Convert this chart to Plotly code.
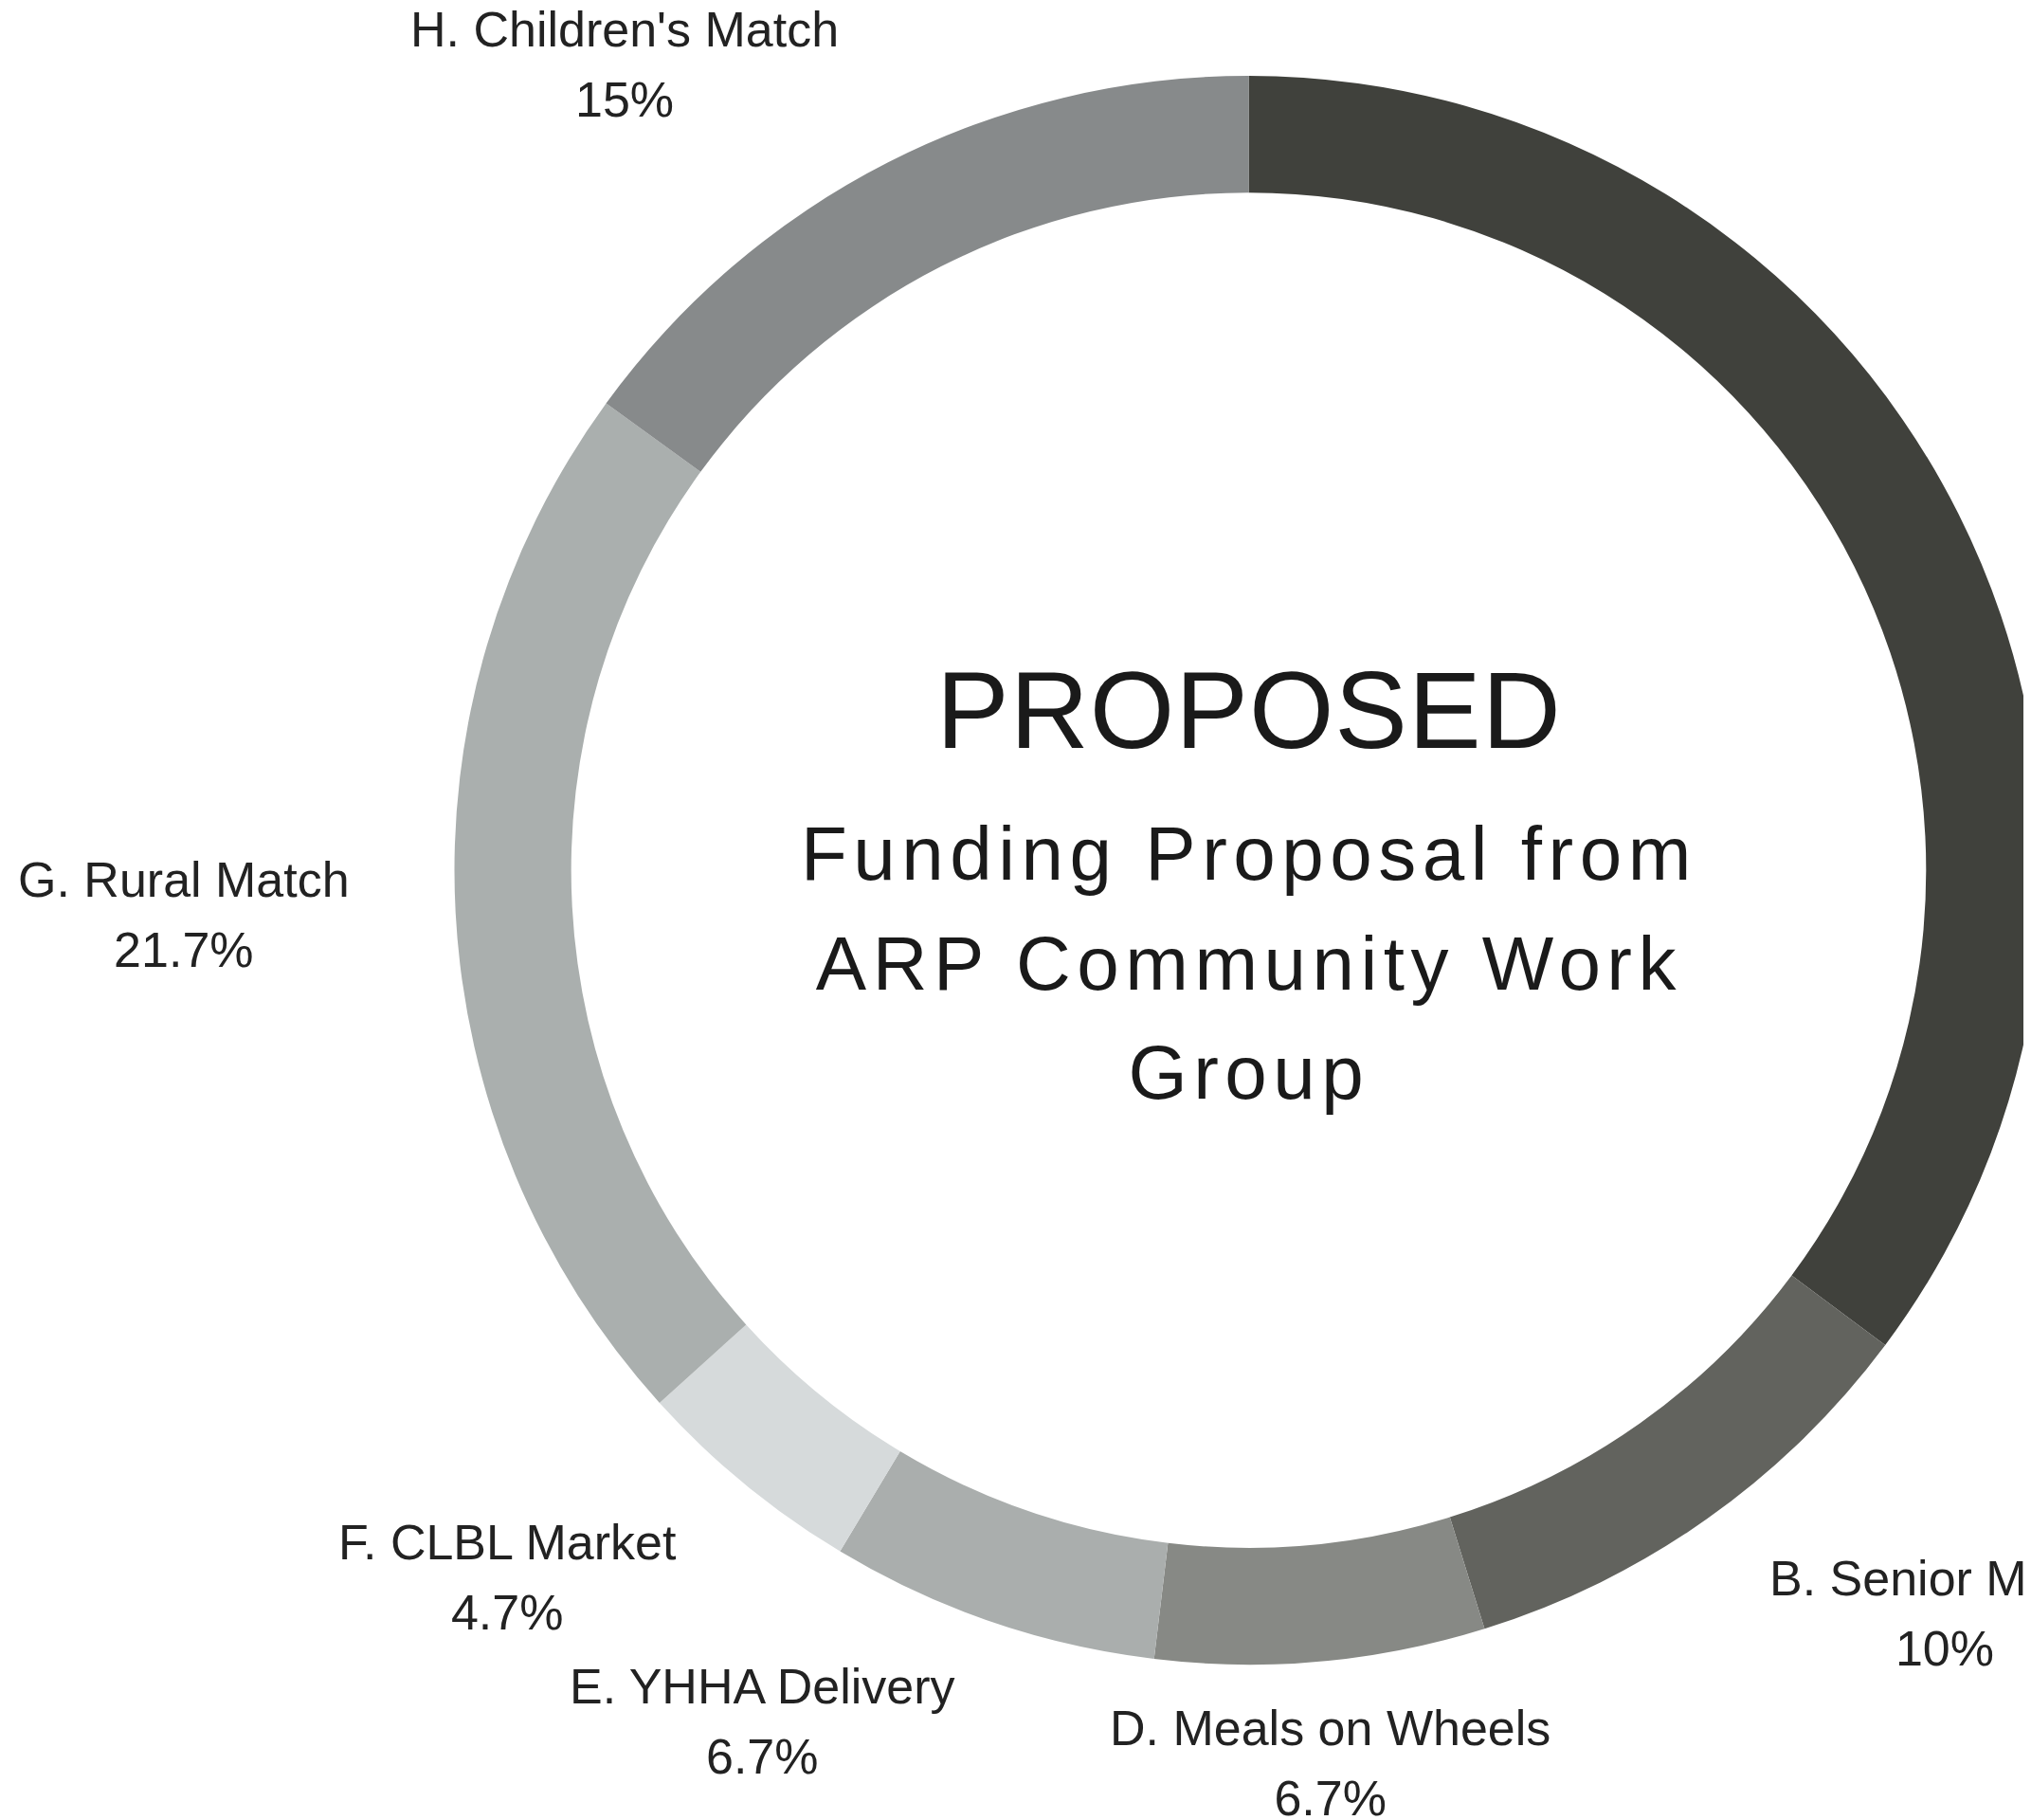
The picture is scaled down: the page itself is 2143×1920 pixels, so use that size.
import math

import plotly.graph_objects as go

# slice data (clockwise from 12 o'clock); slice A's label lies off the page
labels = [
    "A",
    "B. Senior Match",
    "D. Meals on Wheels",
    "E. YHHA Delivery",
    "F. CLBL Market",
    "G. Rural Match",
    "H. Children's Match",
]
values = [35.2, 10.0, 6.7, 6.7, 4.7, 21.7, 15.0]
show_label = [False, True, True, True, True, True, True]
colors = ["#40413c", "#62635e", "#878985", "#aaaead", "#d6dadb", "#aaafae", "#878a8b"]

title_main = "PROPOSED"
title_sub = ["Funding Proposal from", "ARP Community Work", "Group"]

FONT = "Liberation Sans, Arial, sans-serif"

# ---------------------------------------------------------------------------
# Page geometry
# ---------------------------------------------------------------------------
W, H = 2619, 1920
M_TOP, M_BOT = 72, 172
plot_h = H - M_TOP - M_BOT
radius = plot_h / 2
label_rx = radius * 1.131   # labels sit a little further out at the sides
label_ry = radius * 1.047

fig = go.Figure(go.Pie(
    labels=labels,
    values=values,
    hole=0.853,
    sort=False,
    direction="clockwise",
    rotation=0,
    marker=dict(colors=colors, line=dict(width=0)),
    textinfo="none",
    showlegend=False,
))

# ---------------------------------------------------------------------------
# Slice labels: placed just outside the ring at each slice's mid angle
# ---------------------------------------------------------------------------
total = sum(values)
cum = 0.0
for lab, val, show in zip(labels, values, show_label):
    mid = (cum + val / 2) / total * 2 * math.pi
    cum += val
    if not show:
        continue
    ux, uy = math.sin(mid), math.cos(mid)  # uy points up
    xa = "left" if ux > 0.3 else ("right" if ux < -0.3 else "center")
    ya = "bottom" if uy > 0.3 else ("top" if uy < -0.3 else "middle")
    pct = f"{val / total * 100:.3g}%"
    fig.add_annotation(
        x=0.5 + ux * label_rx / W,
        y=0.5 + uy * label_ry / plot_h,
        xref="paper", yref="paper",
        xanchor=xa, yanchor=ya,
        text=f"<span style='font-size:52px'>{lab}</span><br>"
             f"<span style='font-size:52px'>{pct}</span>",
        showarrow=False, align="center",
        font=dict(family=FONT, size=57, color="#222222"),
    )

# ---------------------------------------------------------------------------
# Centre text
# ---------------------------------------------------------------------------
sub_text = "<br>".join(
    f"<span style='font-size:80px;letter-spacing:6.5px'>{line}</span>" for line in title_sub
)

fig.add_annotation(
    x=0.5, y=0.5, xref="paper", yref="paper",
    text=f"<span style='letter-spacing:1px'>{title_main}</span>",
    showarrow=False, yanchor="bottom", yshift=103,
    font=dict(family=FONT, size=115, color="#1a1a1a"),
)
fig.add_annotation(
    x=0.5, y=0.5, xref="paper", yref="paper",
    text=sub_text,
    showarrow=False, yanchor="top", yshift=64,
    font=dict(family=FONT, size=89, color="#1a1a1a"),
)

fig.update_layout(
    width=W,
    height=H,
    margin=dict(l=0, r=0, t=M_TOP, b=M_BOT),
    paper_bgcolor="white",
    plot_bgcolor="white",
)

fig.write_html("out.html")
